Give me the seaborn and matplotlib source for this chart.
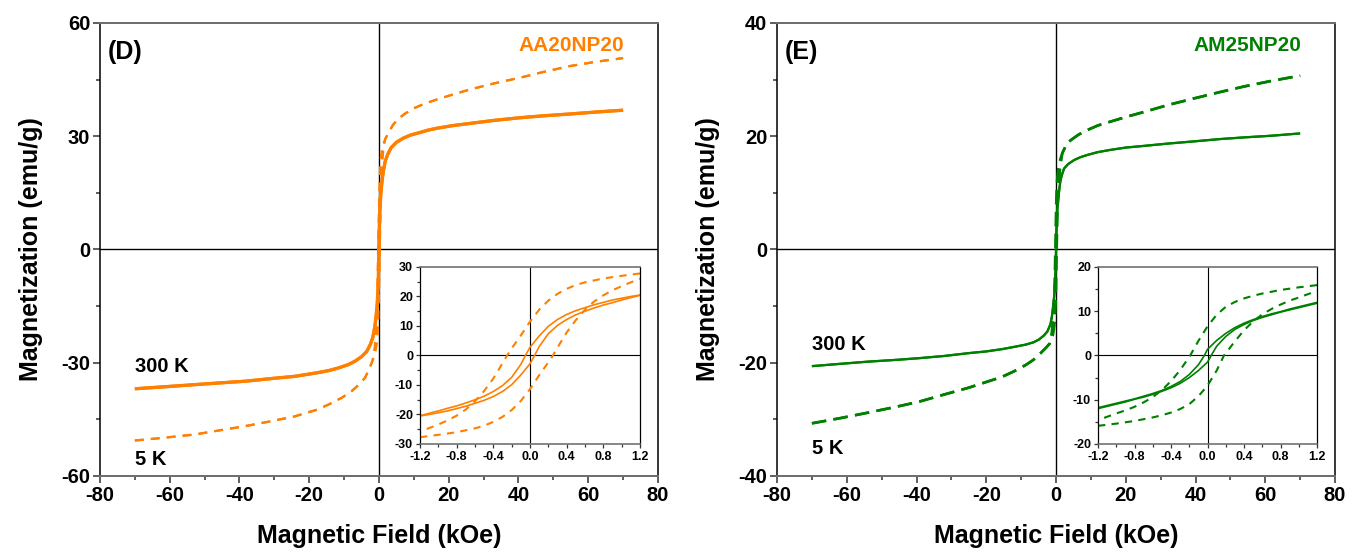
import numpy as np
import pandas as pd
import matplotlib
matplotlib.use("Agg")
import matplotlib.pyplot as plt
from matplotlib.ticker import MultipleLocator, FormatStrFormatter
import seaborn as sns

# ---------------- data: M-H loops (field in kOe, magnetization in emu/g) ----------------
# AA20NP20, 300 K : high-field parts
aa_300_pos_h = [1.5, 1.8, 2.5, 3.5, 5.0, 7.0, 9.0, 11.8, 14.0, 16.5, 21.0, 26.1, 33.0, 40.4, 47.0, 54.8, 62.0, 70.0]
aa_300_pos_m = [22.0, 23.4, 25.2, 27.0, 28.4, 29.5, 30.3, 31.0, 31.6, 32.1, 32.8, 33.4, 34.2, 34.9, 35.4, 35.9, 36.4, 36.9]
aa_300_neg_h = [-70.0, -62.0, -52.8, -45.0, -38.4, -31.0, -24.1, -18.0, -14.5, -11.7, -8.8, -6.9, -5.0, -3.5, -2.5, -1.8, -1.5]
aa_300_neg_m = [-36.9, -36.4, -35.8, -35.3, -34.9, -34.2, -33.6, -32.7, -32.1, -31.4, -30.5, -29.6, -28.4, -27.0, -25.2, -23.4, -22.0]
# AA20NP20, 300 K : low-field loop (field sweeping down / up)
aa_300_up_h = [1.2, 1.1, 1.0, 0.9, 0.8, 0.7, 0.6, 0.5, 0.4, 0.3, 0.2, 0.1, 0.0, -0.05, -0.1, -0.2, -0.3,
               -0.4, -0.5, -0.6, -0.7, -0.8, -0.9, -1.0, -1.1, -1.2]
aa_300_up_m = [20.5, 20.0, 19.4, 18.8, 18.0, 17.2, 16.2, 15.2, 13.9, 12.2, 9.9, 6.6, 2.8, 0.0, -3.0, -7.4, -10.2,
               -12.2, -13.8, -15.0, -16.1, -17.1, -17.9, -18.8, -19.6, -20.4]
aa_300_dn_h = [-1.2, -1.1, -1.0, -0.9, -0.8, -0.7, -0.6, -0.5, -0.4, -0.3, -0.2, -0.1, 0.0, 0.05, 0.1, 0.2, 0.3,
               0.4, 0.5, 0.6, 0.7, 0.8, 0.9, 1.0, 1.1, 1.2]
aa_300_dn_m = [-20.5, -20.0, -19.4, -18.8, -18.0, -17.2, -16.2, -15.2, -13.9, -12.2, -9.9, -6.6, -2.8, 0.0, 3.0, 7.4, 10.2,
               12.2, 13.8, 15.0, 16.1, 17.1, 17.9, 18.8, 19.6, 20.4]

# AA20NP20, 5 K
aa_5_pos_h = [1.8, 2.8, 4.0, 5.5, 7.5, 10.0, 13.0, 16.5, 21.0, 26.1, 33.0, 40.4, 47.0, 54.8, 62.0, 70.0]
aa_5_pos_m = [29.3, 31.0, 33.0, 34.6, 36.0, 37.4, 38.6, 39.7, 41.0, 42.4, 44.0, 45.5, 47.0, 48.6, 49.7, 50.7]
aa_5_neg_h = [-70.0, -62.0, -52.8, -45.0, -38.4, -31.0, -24.1, -18.0, -14.5, -10.7, -7.8, -5.9, -4.0, -2.9, -1.9]
aa_5_neg_m = [-50.6, -49.9, -49.0, -47.8, -46.8, -45.5, -44.2, -42.5, -41.1, -39.3, -37.5, -35.9, -34.0, -31.8, -29.6]
aa_5_up_h = [1.2, 1.0, 0.8, 0.6, 0.5, 0.4, 0.3, 0.2, 0.1, 0.0, -0.1, -0.2, -0.25, -0.3, -0.4, -0.5, -0.6,
             -0.7, -0.8, -0.9, -1.0, -1.1, -1.2]
aa_5_up_m = [27.8, 27.0, 26.1, 24.8, 23.9, 22.6, 20.9, 18.6, 15.5, 11.5, 6.8, 2.4, 0.0, -2.6, -7.8, -12.0, -15.5,
             -18.3, -20.4, -22.0, -23.4, -24.6, -25.8]
aa_5_dn_h = [-1.2, -1.0, -0.8, -0.6, -0.5, -0.4, -0.3, -0.2, -0.1, 0.0, 0.1, 0.2, 0.25, 0.3, 0.4, 0.5, 0.6,
             0.7, 0.8, 0.9, 1.0, 1.1, 1.2]
aa_5_dn_m = [-27.7, -26.9, -26.0, -24.7, -23.8, -22.5, -20.8, -18.5, -15.4, -11.4, -6.7, -2.3, 0.0, 2.7, 7.8, 12.0, 15.5,
             18.3, 20.4, 22.1, 23.5, 24.8, 26.0]

# AM25NP20, 300 K
am_300_pos_h = [1.6, 2.3, 3.5, 5.2, 7.0, 9.0, 12.0, 15.7, 20.0, 25.3, 32.0, 39.7, 47.0, 54.0, 62.0, 70.0]
am_300_pos_m = [13.0, 14.3, 15.1, 15.8, 16.3, 16.7, 17.2, 17.6, 18.0, 18.3, 18.7, 19.1, 19.5, 19.8, 20.1, 20.5]
am_300_neg_h = [-70.0, -62.0, -53.8, -46.0, -39.4, -32.0, -25.0, -20.0, -15.5, -12.0, -8.7, -6.5, -4.9, -3.5, -2.5, -1.6]
am_300_neg_m = [-20.6, -20.2, -19.8, -19.5, -19.2, -18.8, -18.3, -18.0, -17.6, -17.2, -16.8, -16.4, -15.9, -15.2, -14.5, -13.2]
am_300_up_h = [1.2, 1.1, 1.0, 0.9, 0.8, 0.7, 0.6, 0.5, 0.4, 0.3, 0.2, 0.1, 0.0, -0.035, -0.1, -0.2, -0.3,
               -0.4, -0.5, -0.6, -0.7, -0.8, -0.9, -1.0, -1.1, -1.2]
am_300_up_m = [12.0, 11.5, 11.0, 10.5, 9.9, 9.4, 8.8, 8.1, 7.3, 6.3, 5.0, 3.4, 1.4, 0.0, -2.1, -4.3, -5.9,
               -7.0, -7.9, -8.6, -9.2, -9.8, -10.3, -10.8, -11.3, -11.8]
am_300_dn_h = [-1.2, -1.1, -1.0, -0.9, -0.8, -0.7, -0.6, -0.5, -0.4, -0.3, -0.2, -0.1, 0.0, 0.04, 0.1, 0.2, 0.3,
               0.4, 0.5, 0.6, 0.7, 0.8, 0.9, 1.0, 1.1, 1.2]
am_300_dn_m = [-12.0, -11.5, -11.0, -10.5, -9.9, -9.4, -8.8, -8.1, -7.3, -6.3, -5.0, -3.4, -1.5, 0.0, 2.1, 4.3, 5.9,
               7.0, 7.9, 8.6, 9.2, 9.8, 10.3, 10.8, 11.3, 11.8]

# AM25NP20, 5 K
am_5_pos_h = [1.8, 2.8, 4.2, 6.5, 9.0, 12.0, 15.7, 20.0, 25.3, 32.0, 39.7, 47.0, 54.0, 62.0, 70.0]
am_5_pos_m = [17.0, 18.3, 19.3, 20.3, 21.1, 21.9, 22.6, 23.4, 24.3, 25.5, 26.7, 27.8, 28.8, 29.8, 30.7]
am_5_neg_h = [-70.0, -62.0, -53.8, -46.0, -39.4, -32.0, -25.0, -20.0, -15.5, -12.0, -8.7, -6.5, -4.4, -2.8, -1.8]
am_5_neg_m = [-30.7, -29.8, -28.8, -27.8, -26.9, -25.6, -24.4, -23.4, -22.5, -21.5, -20.4, -19.5, -18.3, -17.3, -16.6]
am_5_up_h = [1.2, 1.0, 0.8, 0.6, 0.5, 0.4, 0.3, 0.2, 0.1, 0.0, -0.1, -0.19, -0.3, -0.4, -0.5, -0.6,
             -0.7, -0.8, -0.9, -1.0, -1.2]
am_5_up_m = [15.9, 15.4, 14.8, 14.0, 13.5, 12.9, 12.1, 11.0, 9.2, 6.6, 3.3, 0.0, -3.3, -5.8, -7.8, -9.4,
             -10.6, -11.6, -12.4, -13.1, -14.6]
am_5_dn_h = [-1.2, -1.0, -0.8, -0.6, -0.5, -0.4, -0.3, -0.2, -0.1, 0.0, 0.1, 0.18, 0.3, 0.4, 0.5, 0.6,
             0.7, 0.8, 0.9, 1.0, 1.2]
am_5_dn_m = [-15.9, -15.4, -14.8, -14.0, -13.5, -12.9, -12.1, -11.0, -9.2, -6.8, -3.4, 0.0, 3.2, 5.7, 7.7, 9.3,
             10.5, 11.5, 12.4, 13.1, 14.6]

samples = ["AA20NP20", "AM25NP20"]
panel_tags = ["(D)", "(E)"]
temps = ["300 K", "5 K"]

# ---------------- style ----------------
sns.set_theme(style="white")
plt.rcParams["font.family"] = ["Liberation Sans", "DejaVu Sans"]
plt.rcParams["font.weight"] = "bold"
plt.rcParams["axes.labelweight"] = "bold"
plt.rcParams["axes.unicode_minus"] = False
plt.rcParams["text.color"] = "black"
plt.rcParams["axes.labelcolor"] = "black"
plt.rcParams["xtick.color"] = "black"
plt.rcParams["ytick.color"] = "black"

ORANGE = "#FF8000"
GREEN = "#008000"


def branches(neg_h, neg_m, dn_h, dn_m, pos_h, pos_m, up_h, up_m):
    """Both loop branches, each traced from the negative to the positive field end."""
    lower = pd.DataFrame({"H": list(neg_h) + list(dn_h) + list(pos_h),
                          "M": list(neg_m) + list(dn_m) + list(pos_m)})
    upper = pd.DataFrame({"H": list(neg_h) + list(up_h[::-1]) + list(pos_h),
                          "M": list(neg_m) + list(up_m[::-1]) + list(pos_m)})
    return [lower, upper]


def draw(ax, df, color, lw, dashes=None):
    sns.lineplot(data=df, x="H", y="M", sort=False, estimator=None, color=color,
                 lw=lw, ax=ax, solid_capstyle="butt", dash_capstyle="butt",
                 solid_joinstyle="round")
    line = ax.lines[-1]
    if dashes is not None:
        line.set_dashes(dashes)
    return line


def style_axes(ax, major_x, minor_x, major_y, minor_y, tick_size, major_len, minor_len, lw):
    ax.xaxis.set_major_locator(MultipleLocator(major_x))
    ax.xaxis.set_minor_locator(MultipleLocator(minor_x))
    ax.yaxis.set_major_locator(MultipleLocator(major_y))
    ax.yaxis.set_minor_locator(MultipleLocator(minor_y))
    ax.tick_params(which="both", direction="out", bottom=True, left=True, top=False, right=False,
                   colors="#333333", width=lw, labelcolor="black", labelsize=tick_size, pad=2)
    ax.tick_params(which="major", length=major_len)
    ax.tick_params(which="minor", length=minor_len)
    for side in ["left", "right"]:
        ax.spines[side].set_color("black")
        ax.spines[side].set_linewidth(lw)
    for side in ["top", "bottom"]:
        ax.spines[side].set_color("#6e6e6e")
        ax.spines[side].set_linewidth(lw * 1.3)
    for lab in ax.get_xticklabels() + ax.get_yticklabels():
        lab.set_fontweight("bold")
    ax.axhline(0, color="black", lw=lw * 0.9, zorder=1)
    ax.axvline(0, color="black", lw=lw * 0.9, zorder=1)
    ax.set_xlabel("")
    ax.set_ylabel("")


fig = plt.figure(figsize=(13.62, 5.54), dpi=100)

panels = [
    dict(sample=samples[0], tag=panel_tags[0], color=ORANGE, ylim=60, ymaj=30, ymin=15,
         ins_ylim=30, ins_ymaj=10, ins_ymin=5,
         main=[(aa_300_neg_h, aa_300_neg_m, aa_300_dn_h, aa_300_dn_m, aa_300_pos_h, aa_300_pos_m, aa_300_up_h, aa_300_up_m),
               (aa_5_neg_h, aa_5_neg_m, aa_5_dn_h, aa_5_dn_m, aa_5_pos_h, aa_5_pos_m, aa_5_up_h, aa_5_up_m)],
         lw300=2.3, lw5=1.6, dash5=(4.0, 3.2), ins_dash=(3.5, 3.0),
         rect=[0.0734, 0.1408, 0.4097, 0.8177], ins_rect=[0.3084, 0.1986, 0.1615, 0.3195],
         lab300=-31.0, lab5=-55.6),
    dict(sample=samples[1], tag=panel_tags[1], color=GREEN, ylim=40, ymaj=20, ymin=10,
         ins_ylim=20, ins_ymaj=10, ins_ymin=5,
         main=[(am_300_neg_h, am_300_neg_m, am_300_dn_h, am_300_dn_m, am_300_pos_h, am_300_pos_m, am_300_up_h, am_300_up_m),
               (am_5_neg_h, am_5_neg_m, am_5_dn_h, am_5_dn_m, am_5_pos_h, am_5_pos_m, am_5_up_h, am_5_up_m)],
         lw300=1.6, lw5=1.9, dash5=(5.5, 2.8), ins_dash=(3.5, 3.0),
         rect=[0.5705, 0.1408, 0.4097, 0.8177], ins_rect=[0.8062, 0.1986, 0.1608, 0.3195],
         lab300=-16.7, lab5=-35.2),
]

for p in panels:
    ax = fig.add_axes(p["rect"])
    t300, t5 = p["main"]
    for br in branches(*t300):
        draw(ax, br, p["color"], p["lw300"])
    for br in branches(*t5):
        draw(ax, br, p["color"], p["lw5"], dashes=p["dash5"])
    ax.set_xlim(-80, 80)
    ax.set_ylim(-p["ylim"], p["ylim"])
    style_axes(ax, 20, 10, p["ymaj"], p["ymin"], 14.5, 5, 3, 1.1)
    ax.set_xlabel("Magnetic Field (kOe)", fontsize=18, fontweight="bold", labelpad=14)
    ax.set_ylabel("Magnetization (emu/g)", fontsize=18, fontweight="bold", labelpad=13)

    ax.text(0.014, 0.936, p["tag"], transform=ax.transAxes, fontsize=18, fontweight="bold",
            ha="left", va="center", color="black")
    ax.text(0.94, 0.951, p["sample"], transform=ax.transAxes, fontsize=15, fontweight="bold",
            ha="right", va="center", color=p["color"])
    ax.text(-70, p["lab300"], temps[0], fontsize=14.5, fontweight="bold", ha="left", va="center")
    ax.text(-70, p["lab5"], temps[1], fontsize=14.5, fontweight="bold", ha="left", va="center")

    # low-field inset
    ins = fig.add_axes(p["ins_rect"])
    ins.set_facecolor("white")
    for h, m in ((t300[2], t300[3]), (t300[6], t300[7])):
        draw(ins, pd.DataFrame({"H": h, "M": m}), p["color"], 1.2)
    for h, m in ((t5[2], t5[3]), (t5[6], t5[7])):
        draw(ins, pd.DataFrame({"H": h, "M": m}), p["color"], 1.5, dashes=p["ins_dash"])
    ins.set_xlim(-1.2, 1.2)
    ins.set_ylim(-p["ins_ylim"], p["ins_ylim"])
    style_axes(ins, 0.4, 0.2, p["ins_ymaj"], p["ins_ymin"], 9, 3, 2, 0.9)
    ins.xaxis.set_major_formatter(FormatStrFormatter("%.1f"))

fig.savefig("out.png", dpi=100, facecolor="white")
